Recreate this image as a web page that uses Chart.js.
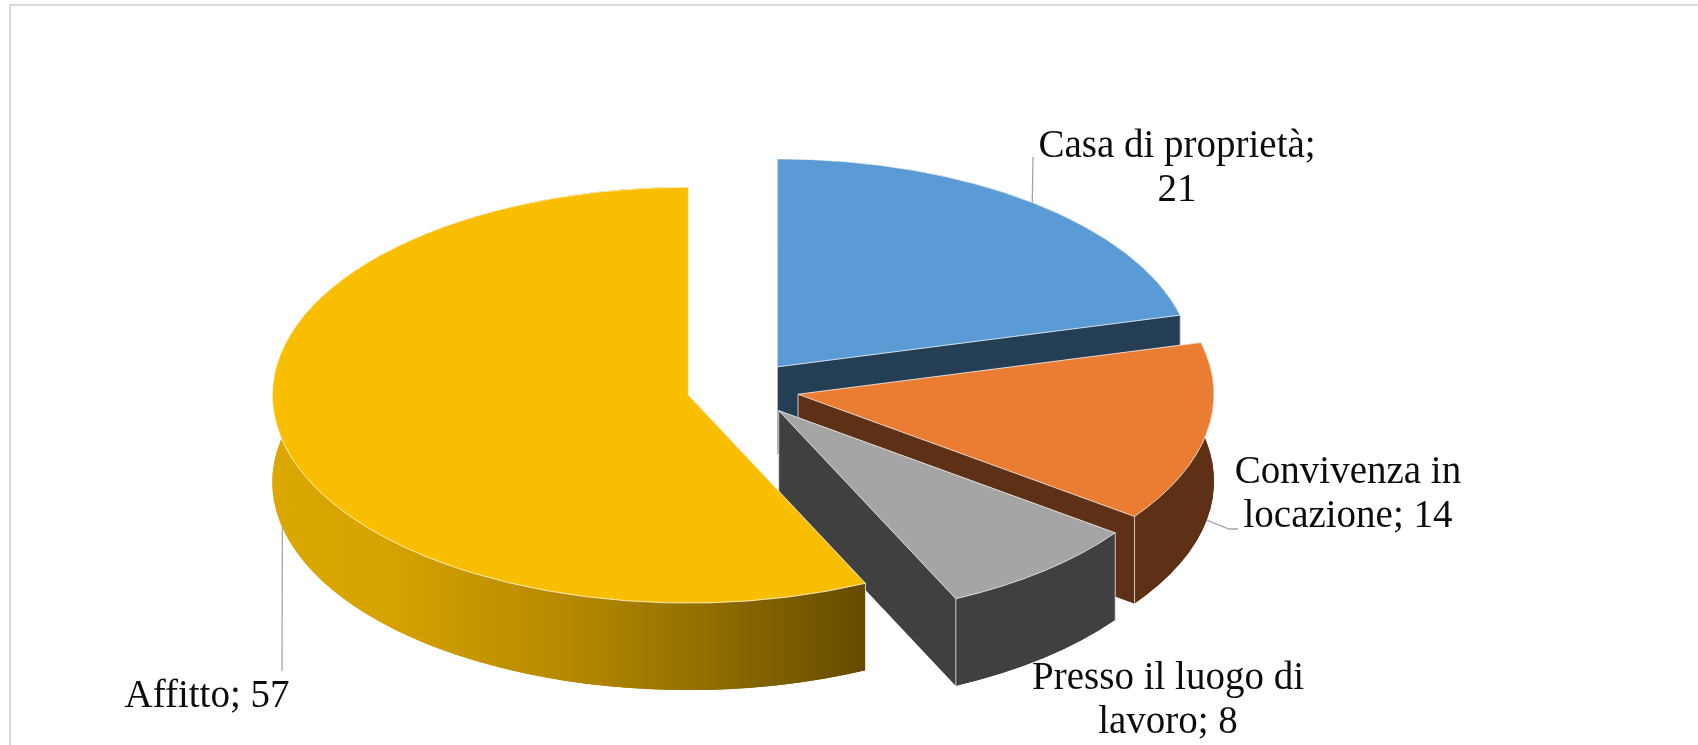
<!DOCTYPE html>
<html>
<head>
<meta charset="utf-8">
<script src="https://cdn.jsdelivr.net/npm/chart.js@4.4.1/dist/chart.umd.min.js"></script>
<style>
  html, body { margin: 0; padding: 0; background: #fff; overflow: hidden; }
  #wrap { position: relative; width: 1698px; height: 745px; overflow: hidden; }
  #frame { position: absolute; left: 9px; top: 4px; width: 1720px; height: 800px;
           border: 2px solid #d9d9d9; box-sizing: border-box; }
  #c { position: absolute; left: 0; top: 0; }
</style>
</head>
<body>
<div id="wrap">
  <div id="frame"></div>
  <canvas id="c" width="1698" height="745"></canvas>
</div>
<script>
// Dove vivono: categorie e valori
const categories = ['Casa di proprietà', 'Convivenza in locazione', 'Presso il luogo di lavoro', 'Affitto'];
const values = [21, 14, 8, 57];

// Colori: faccia superiore e pareti laterali
const topColors  = ['#5B9BD5', '#EB7D32', '#A5A5A5', '#FABE00'];
const sideColors = ['#243E55', '#5E3116', '#404040', null]; // null: gradiente orizzontale
const goldWallStops = [[0, '#DBA700'], [0.2, '#D6A200'], [0.5, '#B58900'], [0.75, '#8E6C00'], [1, '#664B00']];

// Geometria della torta 3D
const TILT = 0.5;      // schiacciamento verticale dell'ellisse
const DEPTH = 87;      // spessore della torta in pixel
const EXPLODE = 56;    // distacco delle fette dal centro
const EDGE = 'rgba(255,255,255,0.75)';

// Etichette: centro del testo, linea di base della prima riga, punti della linea guida
const FONT_SIZE = 39;
const LINE_H = 44;
const WRAP_WIDTH = 300;
const labelLayout = [
  { x: 1177, y: 157, leader: [[1033, 157]] },
  { x: 1348, y: 483, leader: [[1229, 529], [1238, 529]] },
  { x: 1168, y: 689, leader: [] },
  { x: 207,  y: 707, leader: [[282, 671]] }
];

function geom(arc) {
  const p = arc.getProps(['x', 'y', 'startAngle', 'endAngle', 'outerRadius'], true);
  const mid = (p.startAngle + p.endAngle) / 2;
  return {
    cx: p.x + EXPLODE * Math.cos(mid),
    cy: p.y + EXPLODE * Math.sin(mid) * TILT,
    r: p.outerRadius,
    ry: p.outerRadius * TILT,
    s: p.startAngle,
    e: p.endAngle,
    mid
  };
}

function rim(g, a) {
  return [g.cx + g.r * Math.cos(a), g.cy + g.ry * Math.sin(a)];
}

// distanza angolare dal punto piu vicino all'osservatore (in basso)
function frontGap(arc) {
  const s = arc.startAngle, e = arc.endAngle, f = Math.PI / 2;
  if (s <= f && f <= e) return 0;
  return Math.min(Math.abs(s - f), Math.abs(e - f));
}

function sideFill(ctx, g, i) {
  if (sideColors[i]) return sideColors[i];
  // gradiente sulla parte visibile della parete esterna
  const xs = [g.cx - g.r, rim(g, g.s)[0], rim(g, g.e)[0]];
  const x0 = (g.s <= Math.PI && g.e >= Math.PI) ? g.cx - g.r : Math.min(...xs);
  const x1 = Math.max(rim(g, Math.max(g.s, 0))[0], x0 + 1);
  const grad = ctx.createLinearGradient(x0, 0, x1, 0);
  goldWallStops.forEach(([t, c]) => grad.addColorStop(t, c));
  return grad;
}

function drawSlice(ctx, arc, i) {
  const g = geom(arc);
  ctx.save();
  ctx.fillStyle = sideFill(ctx, g, i);

  // faccia inferiore
  ctx.beginPath();
  ctx.moveTo(g.cx, g.cy + DEPTH);
  ctx.ellipse(g.cx, g.cy + DEPTH, g.r, g.ry, 0, g.s, g.e);
  ctx.closePath();
  ctx.fill();

  // facce radiali
  for (const a of [g.s, g.e]) {
    const p = rim(g, a);
    ctx.beginPath();
    ctx.moveTo(g.cx, g.cy);
    ctx.lineTo(p[0], p[1]);
    ctx.lineTo(p[0], p[1] + DEPTH);
    ctx.lineTo(g.cx, g.cy + DEPTH);
    ctx.closePath();
    ctx.fill();
  }

  // parete esterna
  ctx.beginPath();
  ctx.ellipse(g.cx, g.cy, g.r, g.ry, 0, g.s, g.e);
  ctx.ellipse(g.cx, g.cy + DEPTH, g.r, g.ry, 0, g.e, g.s, true);
  ctx.closePath();
  ctx.fill();

  // spigoli verticali visibili
  ctx.strokeStyle = EDGE;
  ctx.lineWidth = 1;
  const faceVisible = [-Math.cos(g.s) > 0.01, Math.cos(g.e) > 0.01];
  [g.s, g.e].forEach((a, k) => {
    const p = rim(g, a);
    if (faceVisible[k] || Math.sin(a) > 0.01) {
      ctx.beginPath();
      ctx.moveTo(p[0], p[1]);
      ctx.lineTo(p[0], p[1] + DEPTH);
      ctx.stroke();
    }
    if (faceVisible[k]) {
      ctx.beginPath();
      ctx.moveTo(g.cx, g.cy);
      ctx.lineTo(g.cx, g.cy + DEPTH);
      ctx.stroke();
    }
  });

  // faccia superiore
  ctx.fillStyle = topColors[i];
  ctx.beginPath();
  ctx.moveTo(g.cx, g.cy);
  ctx.ellipse(g.cx, g.cy, g.r, g.ry, 0, g.s, g.e);
  ctx.closePath();
  ctx.fill();
  ctx.stroke();
  ctx.restore();
}

function wrapText(ctx, text, maxW) {
  const words = text.split(' ');
  const lines = [];
  let cur = '';
  for (const w of words) {
    const test = cur ? cur + ' ' + w : w;
    if (cur && ctx.measureText(test).width > maxW) {
      lines.push(cur);
      cur = w;
    } else {
      cur = test;
    }
  }
  if (cur) lines.push(cur);
  return lines;
}

const pie3d = {
  id: 'pie3d',
  beforeDatasetsDraw(chart) {
    const ctx = chart.ctx;
    const arcs = chart.getDatasetMeta(0).data;
    const order = arcs.map((_, i) => i).sort((a, b) => frontGap(arcs[b]) - frontGap(arcs[a]));
    order.forEach(i => drawSlice(ctx, arcs[i], i));
    return false;
  },
  afterDraw(chart) {
    const ctx = chart.ctx;
    const arcs = chart.getDatasetMeta(0).data;
    ctx.save();
    ctx.font = FONT_SIZE + 'px "Liberation Serif", "Times New Roman", serif';
    ctx.textAlign = 'center';
    ctx.textBaseline = 'alphabetic';
    arcs.forEach((arc, i) => {
      const L = labelLayout[i];
      const g = geom(arc);
      if (L.leader.length) {
        const p = rim(g, g.mid);
        const y0 = p[1] + (Math.sin(g.mid) > 0 ? DEPTH : 0);
        ctx.beginPath();
        ctx.moveTo(p[0], y0);
        L.leader.forEach(q => ctx.lineTo(q[0], q[1]));
        ctx.strokeStyle = '#A6A6A6';
        ctx.lineWidth = 1.3;
        ctx.stroke();
      }
      ctx.fillStyle = '#0d0d0d';
      const lines = wrapText(ctx, categories[i] + '; ' + values[i], WRAP_WIDTH);
      lines.forEach((t, k) => ctx.fillText(t, L.x, L.y + k * LINE_H));
    });
    ctx.restore();
  }
};

new Chart(document.getElementById('c'), {
  type: 'pie',
  data: {
    labels: categories,
    datasets: [{ data: values, backgroundColor: topColors, borderWidth: 0 }]
  },
  options: {
    responsive: false,
    animation: false,
    radius: 416,
    layout: { padding: { left: 0, right: 212, top: 33, bottom: 0 } },
    plugins: { legend: { display: false }, tooltip: { enabled: false } },
    events: []
  },
  plugins: [pie3d]
});
</script>
</body>
</html>
